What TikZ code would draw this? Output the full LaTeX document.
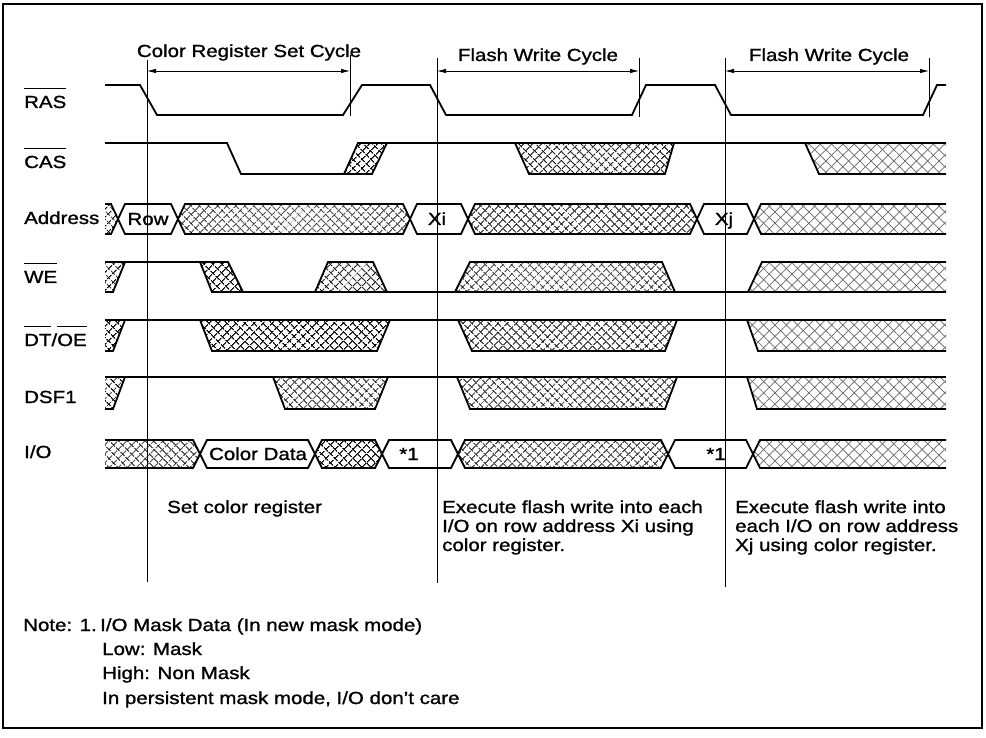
\documentclass[tikz,border=0pt]{standalone}
\usepackage{fontspec}
\setmainfont{Liberation Sans}[FakeStretch=1.17,FakeBold=1.2]
\usetikzlibrary{patterns.meta,arrows.meta}
\newcommand{\barsig}[1]{\vbox{\hrule height 1pt\kern 7pt\hbox{#1}}}

\begin{document}
\begin{tikzpicture}[x=1pt,y=-1pt,
	every node/.style={font=\fontsize{17.5}{19}\selectfont,inner sep=0pt},
	lbl/.style={anchor=base west},
	sig/.style={line width=1.8pt,line join=miter},
	guide/.style={line width=.9pt},
	cyc/.style={line width=.8pt,{Latex[length=9pt,width=4.5pt]}-{Latex[length=9pt,width=4.5pt]}},
	hatch/.style={pattern={Lines[angle=45,distance=6.4pt,line width=1pt]},
		postaction={pattern={Lines[angle=-45,distance=6.4pt,line width=1pt]}}},
	lhatch/.style={pattern={Lines[angle=45,distance=8pt,line width=.7pt]},pattern color=black!60,
		postaction={pattern={Lines[angle=-45,distance=8pt,line width=.7pt]},pattern color=black!60}}]
		\useasboundingbox (0,0) rectangle (986,738);
		\draw[line width=1.4pt] (3,4) rectangle (982,728);
		% guide lines and cycle marks
		\coordinate (g1t) at (147,60);  \coordinate (g1b) at (147,582);
		\coordinate (g2t) at (437,58);  \coordinate (g2b) at (437,583);
		\coordinate (g3t) at (725,58);  \coordinate (g3b) at (725,587);
		\coordinate (e1t) at (350,55);  \coordinate (e1b) at (350,116);
		\coordinate (e2t) at (639,58);  \coordinate (e2b) at (639,117);
		\coordinate (e3t) at (929,58);  \coordinate (e3b) at (929,117);
		\draw[guide] (g1t) -- (g1b) (g2t) -- (g2b) (g3t) -- (g3b);
		\draw[guide] (e1t) -- (e1b) (e2t) -- (e2b) (e3t) -- (e3b);
		\coordinate (a1) at (147,71); \coordinate (b1) at (350,71);
		\coordinate (a2) at (437,71); \coordinate (b2) at (639,71);
		\coordinate (a3) at (725,71); \coordinate (b3) at (929,71);
		\draw[cyc] (a1) -- (b1);
		\draw[cyc] (a2) -- (b2);
		\draw[cyc] (a3) -- (b3);
		\node[anchor=base] (crsc) at (249,57) {Color Register Set Cycle};
		\node[anchor=base] (fwc1) at (538,61) {Flash Write Cycle};
		\node[anchor=base] (fwc2) at (829,61) {Flash Write Cycle};
		% signal names
		\node[lbl] (ras) at (24,108) {\barsig{RAS}};
		\node[lbl] (cas) at (24,168) {\barsig{CAS}};
		\node[lbl] (addr) at (24,224) {Address};
		\node[lbl] (we) at (24,283) {\barsig{WE}};
		\node[lbl] (dtoe) at (24,346) {\barsig{DT}/\barsig{OE}};
		\node[lbl] (dsf) at (24,403) {DSF1};
		\node[lbl] (io) at (24,458) {I/O};
		% RAS
		\draw[sig] (105,85) -- (140,85) -- (157,115) -- (343,115) -- (362,85) -- (430,85) -- (446,115)
			-- (632,115) -- (646,85) -- (715,85) -- (731,115) -- (923,115) -- (937,85) -- (946,85);
		% CAS
		\path[hatch] (344,174) -- (358,143) -- (387,143) -- (372,174) -- cycle;
		\path[hatch] (515,143) -- (529,174) -- (665,174) -- (674,143) -- cycle;
		\path[lhatch] (805,143) -- (819,174) -- (946,174) -- (946,143) -- cycle;
		\draw[sig] (105,143) -- (227,143) -- (241,174) -- (372,174) -- (387,143);
		\draw[sig] (344,174) -- (358,143) -- (946,143);
		\draw[sig] (515,143) -- (529,174) -- (665,174) -- (674,143);
		\draw[sig] (805,143) -- (819,174) -- (946,174);
		% Address
		\path[hatch] (105,204) -- (111,204) -- (118,219) -- (111,234) -- (105,234) -- cycle;
		\draw[sig] (105,204) -- (111,204) -- (118,219) -- (111,234) -- (105,234);
		\draw[sig] (118,219) -- (125,204) -- (171,204) -- (178,219) -- (171,234) -- (125,234) -- cycle;
		\path[hatch] (178,219) -- (185,204) -- (403,204) -- (410,219) -- (403,234) -- (185,234) -- cycle;
		\draw[sig] (178,219) -- (185,204) -- (403,204) -- (410,219) -- (403,234) -- (185,234) -- cycle;
		\draw[sig] (410,219) -- (417,204) -- (461,204) -- (468,219) -- (461,234) -- (417,234) -- cycle;
		\path[hatch] (468,219) -- (475,204) -- (690,204) -- (697,219) -- (690,234) -- (475,234) -- cycle;
		\draw[sig] (468,219) -- (475,204) -- (690,204) -- (697,219) -- (690,234) -- (475,234) -- cycle;
		\draw[sig] (697,219) -- (704,204) -- (747,204) -- (754,219) -- (747,234) -- (704,234) -- cycle;
		\path[lhatch] (754,219) -- (761,204) -- (946,204) -- (946,234) -- (761,234) -- cycle;
		\draw[sig] (946,204) -- (761,204) -- (754,219) -- (761,234) -- (946,234);
		\node[anchor=base] (row) at (148,225) {Row};
		\node[anchor=base] (xi) at (437,225) {Xi};
		\node[anchor=base] (xj) at (724,225) {Xj};
		% WE
		\path[hatch] (105,262) -- (125,262) -- (113,292) -- (105,292) -- cycle;
		\path[hatch] (200,262) -- (228,262) -- (243,292) -- (212,292) -- cycle;
		\path[hatch] (315,292) -- (328,262) -- (373,262) -- (387,292) -- cycle;
		\path[hatch] (455,292) -- (470,262) -- (662,262) -- (675,292) -- cycle;
		\path[lhatch] (748,292) -- (762,262) -- (946,262) -- (946,292) -- cycle;
		\draw[sig] (105,292) -- (113,292) -- (125,262);
		\draw[sig] (105,262) -- (228,262) -- (243,292);
		\draw[sig] (200,262) -- (212,292) -- (946,292);
		\draw[sig] (315,292) -- (328,262) -- (373,262) -- (387,292);
		\draw[sig] (455,292) -- (470,262) -- (662,262) -- (675,292);
		\draw[sig] (748,292) -- (762,262) -- (946,262);
		% DT/OE
		\path[hatch] (105,320) -- (125,320) -- (113,351) -- (105,351) -- cycle;
		\path[hatch] (200,320) -- (212,351) -- (377,351) -- (390,320) -- cycle;
		\path[hatch] (458,320) -- (472,351) -- (665,351) -- (677,320) -- cycle;
		\path[lhatch] (747,320) -- (758,351) -- (946,351) -- (946,320) -- cycle;
		\draw[sig] (105,351) -- (113,351) -- (125,320);
		\draw[sig] (105,320) -- (946,320);
		\draw[sig] (200,320) -- (212,351) -- (377,351) -- (390,320);
		\draw[sig] (458,320) -- (472,351) -- (665,351) -- (677,320);
		\draw[sig] (747,320) -- (758,351) -- (946,351);
		% DSF1
		\path[hatch] (105,377) -- (125,377) -- (113,409) -- (105,409) -- cycle;
		\path[hatch] (273,377) -- (285,409) -- (375,409) -- (388,377) -- cycle;
		\path[hatch] (457,377) -- (470,409) -- (665,409) -- (677,377) -- cycle;
		\path[lhatch] (747,377) -- (757,409) -- (946,409) -- (946,377) -- cycle;
		\draw[sig] (105,409) -- (113,409) -- (125,377);
		\draw[sig] (105,377) -- (946,377);
		\draw[sig] (273,377) -- (285,409) -- (375,409) -- (388,377);
		\draw[sig] (457,377) -- (470,409) -- (665,409) -- (677,377);
		\draw[sig] (747,377) -- (757,409) -- (946,409);
		% I/O
		\path[hatch] (105,440) -- (193,440) -- (200,454) -- (193,468) -- (105,468) -- cycle;
		\draw[sig] (105,440) -- (193,440) -- (200,454) -- (193,468) -- (105,468);
		\draw[sig] (200,454) -- (207,440) -- (308,440) -- (315,454) -- (308,468) -- (207,468) -- cycle;
		\path[hatch] (315,454) -- (322,440) -- (375,440) -- (382,454) -- (375,468) -- (322,468) -- cycle;
		\draw[sig] (315,454) -- (322,440) -- (375,440) -- (382,454) -- (375,468) -- (322,468) -- cycle;
		\draw[sig] (382,454) -- (389,440) -- (451,440) -- (458,454) -- (451,468) -- (389,468) -- cycle;
		\path[hatch] (458,454) -- (465,440) -- (661,440) -- (668,454) -- (661,468) -- (465,468) -- cycle;
		\draw[sig] (458,454) -- (465,440) -- (661,440) -- (668,454) -- (661,468) -- (465,468) -- cycle;
		\draw[sig] (668,454) -- (675,440) -- (746,440) -- (753,454) -- (746,468) -- (675,468) -- cycle;
		\path[lhatch] (753,454) -- (760,440) -- (946,440) -- (946,468) -- (760,468) -- cycle;
		\draw[sig] (946,440) -- (760,440) -- (753,454) -- (760,468) -- (946,468);
		\node[anchor=base] (cdata) at (258,460) {Color Data};
		\node[anchor=base] (mask1) at (409,460) {*1};
		\node[anchor=base] (mask2) at (716,460) {*1};
		% what each cycle does
		\node[lbl] (setcr) at (167,513) {Set color register};
		\node[lbl] (exa1) at (442,513) {Execute flash write into each};
		\node[lbl] (exa2) at (442,532) {I/O on row address Xi using};
		\node[lbl] (exa3) at (442,551) {color register.};
		\node[lbl] (exb1) at (735,513) {Execute flash write into};
		\node[lbl] (exb2) at (735,532) {each I/O on row address};
		\node[lbl] (exb3) at (735,551) {Xj using color register.};
		% note
		\node[lbl] (note) at (23,631) {Note: 1.};
		\node[lbl] (note1) at (100,631) {I/O Mask Data (In new mask mode)};
		\node[lbl] (note2) at (102,655) {Low: Mask};
		\node[lbl] (note3) at (102,679) {High: Non Mask};
		\node[lbl] (note4) at (102,704) {In persistent mask mode, I/O don't care};
\end{tikzpicture}
\end{document}
